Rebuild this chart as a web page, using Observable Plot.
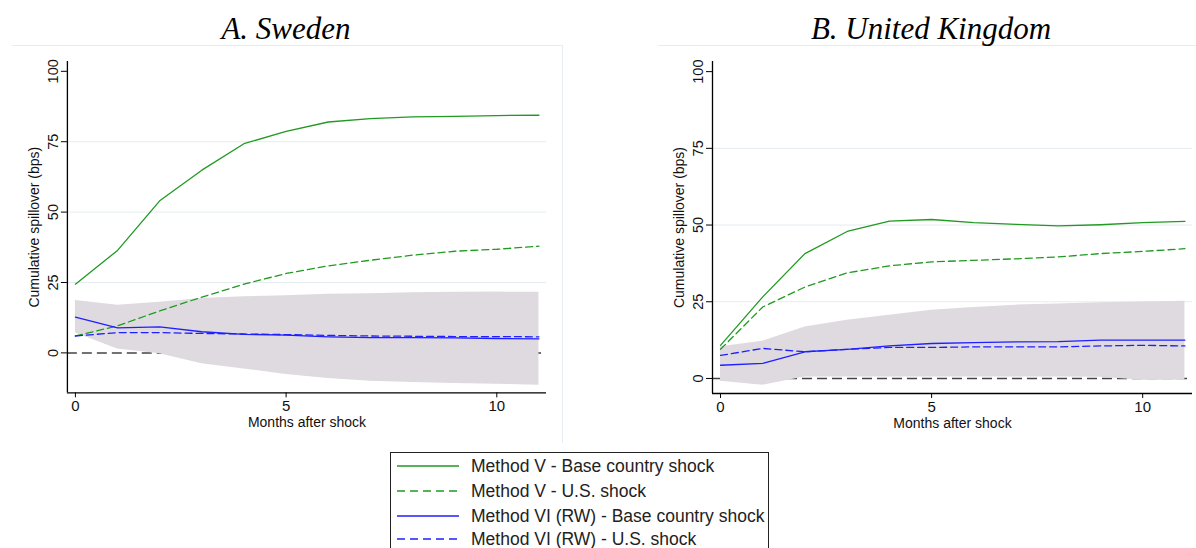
<!DOCTYPE html>
<html>
<head>
<meta charset="utf-8">
<script src="https://cdn.jsdelivr.net/npm/d3@7"></script>
<script src="https://cdn.jsdelivr.net/npm/@observablehq/plot@0.6"></script>
<style>
  html, body { margin: 0; padding: 0; background: #fff; }
  #root { position: relative; width: 1196px; height: 548px; overflow: hidden; background: #fff; }
  .title { position: absolute; top: 13px; font-family: "Liberation Serif", serif; font-style: italic; font-size: 31px; line-height: 31px; color: #000; transform: translateX(-50%); white-space: nowrap; }
  .region { position: absolute; }
  .legend { position: absolute; left: 390px; top: 452px; width: 379px; height: 120px; border: 1px solid #222; box-sizing: border-box; background: #fff; font-family: "Liberation Sans", Arial, sans-serif; font-size: 17.5px; color: #222; }
  .legend .row { position: absolute; left: 0; height: 24px; display: flex; align-items: center; }
  .legend svg { margin-left: 6px; margin-right: 12px; }
</style>
</head>
<body>
<div id="root"></div>
<script>
// ---- data ----
const months = [0, 1, 2, 3, 4, 5, 6, 7, 8, 9, 10, 11];
const xTicks = [0, 5, 10];
const yTicks = [0, 25, 50, 75, 100];
const gridTicks = [25, 50, 75];

const panelTitles = ["A. Sweden", "B. United Kingdom"];
const xLabel = "Months after shock";
const yLabel = "Cumulative spillover (bps)";

const seriesNames = [
  "Method V - Base country shock",
  "Method V - U.S. shock",
  "Method VI (RW) - Base country shock",
  "Method VI (RW) - U.S. shock"
];

// Sweden
const sweVBase  = [24.4, 36.4, 54.0, 64.9, 74.3, 78.7, 82.0, 83.2, 83.8, 84.0, 84.3, 84.4];
const sweVUS    = [6.0, 9.6, 14.9, 19.8, 24.4, 28.2, 30.9, 32.9, 34.7, 36.1, 36.8, 37.9];
const sweVIBase = [12.7, 8.9, 9.2, 7.5, 6.6, 6.3, 5.7, 5.4, 5.4, 5.3, 5.1, 5.0];
const sweVIUS   = [6.0, 7.2, 7.2, 6.9, 6.7, 6.5, 6.2, 6.0, 5.9, 5.8, 5.8, 5.7];
const sweBandLo = [7.1, 1.4, -0.3, -3.9, -5.7, -7.7, -9.1, -10.1, -10.5, -10.9, -11.1, -11.5];
const sweBandHi = [18.6, 16.9, 18.0, 19.3, 19.9, 20.3, 20.8, 21.0, 21.4, 21.5, 21.6, 21.5];

// United Kingdom
const ukVBase  = [10.8, 26.6, 40.7, 47.9, 51.3, 51.8, 50.8, 50.2, 49.7, 50.1, 50.8, 51.2];
const ukVUS    = [9.5, 23.3, 29.8, 34.4, 36.7, 38.0, 38.5, 39.0, 39.6, 40.7, 41.4, 42.3];
const ukVIBase = [4.3, 4.9, 8.7, 9.5, 10.6, 11.4, 11.7, 11.9, 12.0, 12.5, 12.5, 12.5];
const ukVIUS   = [7.5, 9.8, 8.7, 9.5, 10.1, 10.1, 10.3, 10.3, 10.3, 10.6, 10.8, 10.6];
const ukBandLo = [-0.9, -2.2, 0.5, 0.5, 0.5, 0.5, 0.5, 0.5, 0.5, 0.4, -0.6, -0.6];
const ukBandHi = [10.3, 12.1, 16.8, 19.0, 20.6, 22.2, 23.1, 23.9, 24.3, 24.7, 24.9, 25.2];

// ---- styles ----
const GREEN = "#209a20";
const BLUE = "#1f1fff";
const BAND = "#dedadf";
const GRID = "#e4ecf0";
const DASH = "7,4";
const seriesStyles = [
  {stroke: GREEN, dash: null},
  {stroke: GREEN, dash: DASH},
  {stroke: BLUE, dash: null},
  {stroke: BLUE, dash: DASH}
];

const root = document.getElementById("root");

function makePanel(cfg) {
  const {series, lo, hi, yDomain, left, width, marginLeft, marginRight} = cfg;
  const xDomain = [-0.19, 11.18];
  const band = months.map((m, i) => ({m, lo: lo[i], hi: hi[i]}));
  const marks = [
    Plot.gridY(gridTicks, {stroke: GRID, strokeOpacity: 1, strokeWidth: 1}),
    Plot.ruleY([0], {stroke: "#444", strokeWidth: 1.5, strokeDasharray: "10,5"}),
    Plot.areaY(band, {x: "m", y1: "lo", y2: "hi", fill: BAND, fillOpacity: 1}),
  ];
  series.forEach((arr, k) => {
    const rows = months.map((m, i) => ({m, v: arr[i]}));
    const st = seriesStyles[k];
    marks.push(Plot.line(rows, {x: "m", y: "v", stroke: st.stroke, strokeWidth: 1.3,
      strokeDasharray: st.dash || undefined}));
  });
  marks.push(
    Plot.ruleX([xDomain[0]], {stroke: "#000", strokeWidth: 1.3}),
    Plot.ruleY([yDomain[0]], {stroke: "#000", strokeWidth: 1.3}),
    Plot.axisY({ticks: yTicks, tickSize: 6, tickFormat: () => "", label: null, stroke: "#000"}),
    Plot.text(yTicks, {x: () => xDomain[0], y: d => d, text: d => String(d), rotate: -90, dx: -14,
      fontSize: 14.5, fill: "#111", textAnchor: "middle", lineAnchor: "middle"}),
    Plot.axisX({ticks: xTicks, tickSize: 5, tickPadding: 3, fontSize: 15, label: null, fill: "#111"}),
    Plot.text([xLabel], {frameAnchor: "bottom", dy: 30, fontSize: 14, fill: "#111", lineAnchor: "middle"}),
    Plot.text([yLabel], {frameAnchor: "left", dx: -33, rotate: -90, fontSize: 14, fill: "#111",
      textAnchor: "middle", lineAnchor: "middle"})
  );
  const chart = Plot.plot({
    width, height: 398,
    marginTop: 15, marginBottom: 51, marginLeft, marginRight,
    x: {domain: xDomain},
    y: {domain: yDomain},
    style: {fontFamily: "Liberation Sans, Arial, sans-serif", background: "transparent", overflow: "visible"},
    marks
  });
  const div = document.createElement("div");
  div.className = "region";
  div.style.left = left + "px";
  div.style.top = "45px";
  div.style.width = width + "px";
  div.style.height = "398px";
  div.style.borderTop = "1px solid #e6eef1";
  if (cfg.borderRight) div.style.borderRight = "1px solid #e6eef1";
  div.style.boxSizing = "border-box";
  chart.style.position = "absolute";
  chart.style.left = "0px";
  chart.style.top = "0px";
  div.appendChild(chart);
  root.appendChild(div);
}

makePanel({series: [sweVBase, sweVUS, sweVIBase, sweVIUS], lo: sweBandLo, hi: sweBandHi,
  yDomain: [-14.2, 103.5], left: 12, width: 551, marginLeft: 55, marginRight: 16, borderRight: true});
makePanel({series: [ukVBase, ukVUS, ukVIBase, ukVIUS], lo: ukBandLo, hi: ukBandHi,
  yDomain: [-4.9, 103.3], left: 658, width: 538, marginLeft: 54, marginRight: 4, borderRight: false});

// titles
[[panelTitles[0], 286], [panelTitles[1], 931]].forEach(([t, cx]) => {
  const d = document.createElement("div");
  d.className = "title";
  d.style.left = cx + "px";
  d.textContent = t;
  root.appendChild(d);
});

// legend
const leg = document.createElement("div");
leg.className = "legend";
const rowCenters = [13, 38, 63, 86];
seriesNames.forEach((name, k) => {
  const row = document.createElement("div");
  row.className = "row";
  row.style.top = (rowCenters[k] - 12) + "px";
  const st = seriesStyles[k];
  const ns = "http://www.w3.org/2000/svg";
  const svg = document.createElementNS(ns, "svg");
  svg.setAttribute("width", "62");
  svg.setAttribute("height", "10");
  const ln = document.createElementNS(ns, "line");
  ln.setAttribute("x1", "0"); ln.setAttribute("x2", "62");
  ln.setAttribute("y1", "5"); ln.setAttribute("y2", "5");
  ln.setAttribute("stroke", st.stroke);
  ln.setAttribute("stroke-width", "1.3");
  if (st.dash) ln.setAttribute("stroke-dasharray", "8,5");
  svg.appendChild(ln);
  row.appendChild(svg);
  const sp = document.createElement("span");
  sp.textContent = name;
  row.appendChild(sp);
  leg.appendChild(row);
});
root.appendChild(leg);
</script>
</body>
</html>
